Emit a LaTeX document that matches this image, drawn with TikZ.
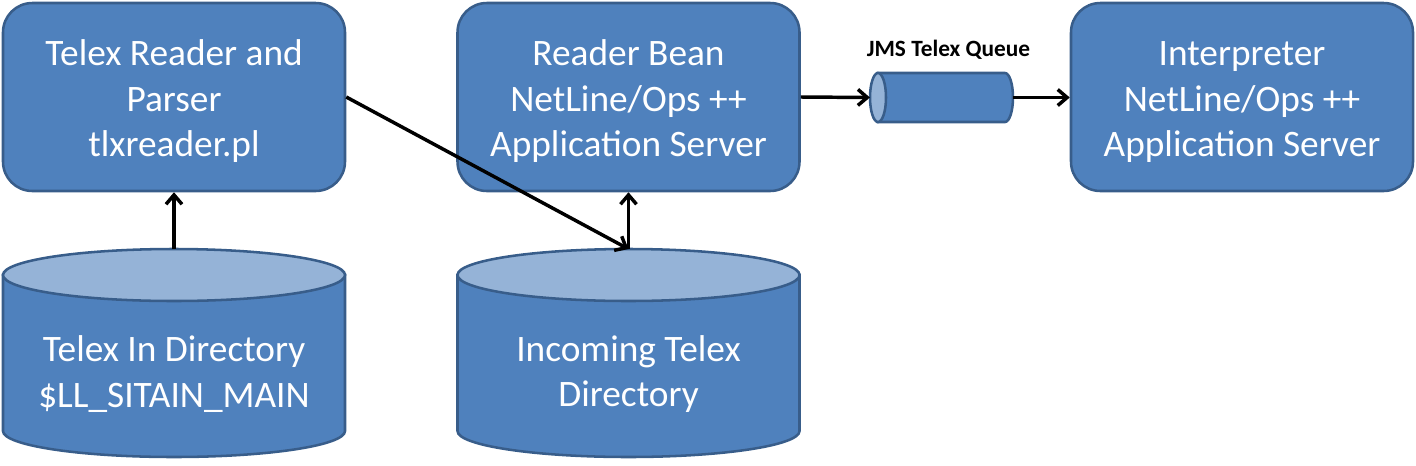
\documentclass[tikz,border=0pt]{standalone}
\usepackage{fontspec}
\setmainfont{Carlito}
\usetikzlibrary{arrows.meta}

\definecolor{boxblue}{RGB}{79,129,189}
\definecolor{boxedge}{RGB}{56,93,138}
\definecolor{lidblue}{RGB}{149,179,215}

\tikzset{
  box/.style={draw=boxedge, fill=boxblue, line width=1.9pt, rounded corners=22pt,
    minimum width=256.5pt, minimum height=141pt, inner sep=0pt, text height=94pt,
    text=white, align=center, font=\fontsize{28}{34}\selectfont},
  dbtext/.style={inner sep=0pt, text=white, align=center, font=\fontsize{28}{34}\selectfont},
  hull/.style={inner sep=0pt, minimum width=107pt, minimum height=37pt},
  arr/.style={line width=2.6pt, -{Straight Barb[length=7pt,width=12pt]}},
}

\begin{document}
\begin{tikzpicture}[x=0.75pt,y=0.75pt,yscale=-1,xscale=1]
\useasboundingbox (0,0) rectangle (1416,465);

%Shape: Can [id:telexin]
\draw [draw=boxedge, fill=boxblue, line width=1.9pt] (3,275) -- (3,431) arc [start angle=180, end angle=0, x radius=171, y radius=26] -- (345,275) -- cycle ;
\draw [draw=boxedge, fill=lidblue, line width=1.9pt] (174,275) ellipse [x radius=171, y radius=26] ;
%Shape: Can [id:incoming]
\draw [draw=boxedge, fill=boxblue, line width=1.9pt] (457.5,275) -- (457.5,431) arc [start angle=180, end angle=0, x radius=171, y radius=26] -- (799.5,275) -- cycle ;
\draw [draw=boxedge, fill=lidblue, line width=1.9pt] (628.5,275) ellipse [x radius=171, y radius=26] ;
%Shape: Horizontal Can [id:queue]
\draw [draw=boxedge, fill=boxblue, line width=1.9pt] (878,73) -- (1005,73) arc [start angle=-90, end angle=90, x radius=8, y radius=24.5] -- (878,122) -- cycle ;
\draw [draw=boxedge, fill=lidblue, line width=1.9pt] (878,97.5) ellipse [x radius=8, y radius=24.5] ;

% Rounded Rect
\node [box] (reader) at (174,97) {Telex Reader and\\Parser\\tlxreader.pl};
% Rounded Rect
\node [box] (bean) at (628.5,97) {Reader Bean\\NetLine/Ops ++\\Application Server};
% Rounded Rect
\node [box] (interp) at (1242,97) {Interpreter\\NetLine/Ops ++\\Application Server};
% Queue
\node [hull] (queue) at (941.5,97.5) {};
\coordinate (telexin top) at (174,249);
\coordinate (incoming top) at (628.5,249);

% Text Node
\node [dbtext] (telexin) at (174,374) {Telex In Directory\\\$LL\_SITAIN\_MAIN};
% Text Node
\node [dbtext] (incoming) at (628.5,374) {Incoming Telex\\Directory};
% Text Node
\node [anchor=base, inner sep=0pt, font=\fontsize{17.5}{20}\selectfont\bfseries] (qname) at (948.5,56.7) {JMS Telex Queue};

%Straight Lines
\draw [arr] (telexin top) -- (reader) ;
\draw [arr] (reader.east) -- (incoming top) ;
\draw [arr] (incoming top) -- (bean) ;
\draw [arr] (bean.east) -- (queue.west) ;
\draw [arr] (queue.east) -- (queue.east -| interp.west) ;

\end{tikzpicture}
\end{document}
